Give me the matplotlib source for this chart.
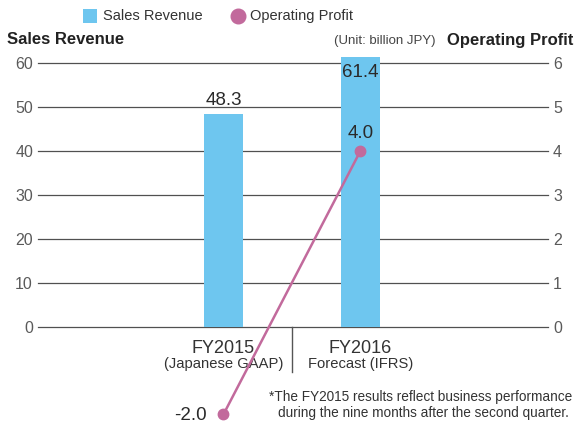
import matplotlib
matplotlib.use("Agg")
import matplotlib.pyplot as plt
from matplotlib.lines import Line2D
from matplotlib.patches import Rectangle

plt.rcParams['font.family'] = ['Liberation Sans', 'DejaVu Sans']

categories = ["FY2015", "FY2016"]
sub_labels = ["(Japanese GAAP)", "Forecast (IFRS)"]
sales = [48.3, 61.4]
profit = [-2.0, 4.0]
left_ticks = [0, 10, 20, 30, 40, 50, 60]
right_ticks = [0, 1, 2, 3, 4, 5, 6]

bar_color = "#6ec6ef"
line_color = "#c26a9c"
grid_color = "#505050"
tick_color = "#5a5a5a"
text_color = "#2a2a2a"

W, H = 574, 423
fig = plt.figure(figsize=(W/100, H/100), dpi=100)
y0, y62 = 326.5, 326.5 - 62*4.392
ax = fig.add_axes([38/W, (H-y0)/H, (548-38)/W, (y0-y62)/H])
ax.set_ylim(0, 62)
ax.set_xlim(-1.354, 2.369)
for s in ax.spines.values():
    s.set_visible(False)
ax.set_yticks(left_ticks)
ax.set_yticklabels([str(t) for t in left_ticks], fontsize=11.5, color=tick_color)
ax.tick_params(axis='y', length=0, pad=3.6)
ax.set_xticks([])
for t in left_ticks:
    ax.axhline(t, color=grid_color, lw=0.9, zorder=1, clip_on=False)

x = list(range(len(categories)))
ax.bar(x, sales, width=0.285, color=bar_color, zorder=2, clip_on=False)

ax2 = ax.twinx()
ax2.set_ylim(0, 6.2)
for s in ax2.spines.values():
    s.set_visible(False)
ax2.set_yticks(right_ticks)
ax2.set_yticklabels([str(t) for t in right_ticks], fontsize=11.5, color=tick_color)
ax2.tick_params(axis='y', length=0, pad=3.6)
ax2.plot(x, profit, color=line_color, lw=1.8, marker='o', ms=7.5, clip_on=False, zorder=5)

# data labels
ax.text(0, 50.4, f"{sales[0]:.1f}", ha='center', va='baseline', fontsize=13.5, color=text_color)
ax.text(1, 56.8, f"{sales[1]:.1f}", ha='center', va='baseline', fontsize=13.5, color=text_color, zorder=6)
ax2.text(1, 4.29, f"{profit[1]:.1f}", ha='center', va='baseline', fontsize=13.5, color=text_color, zorder=6)
ax2.text(-0.125, -2.13, f"{profit[0]:.1f}", ha='right', va='baseline', fontsize=13.5, color=text_color, clip_on=False)

# category labels
for xi, c, sl in zip(x, categories, sub_labels):
    ax.text(xi, -6.03, c, ha='center', va='baseline', fontsize=13, color="#333333")
    ax.text(xi, -9.4, sl, ha='center', va='baseline', fontsize=10.6, color="#333333")
ax.plot([0.5, 0.5], [0, -10.4], color="#555555", lw=1, clip_on=False)

# titles
fig.text(7/W, 1-40/H, "Sales Revenue", ha='left', va='center', fontsize=12, fontweight='bold', color="#222222")
fig.text(573/W, 1-40/H, "Operating Profit", ha='right', va='center', fontsize=12, fontweight='bold', color="#222222")
fig.text(435/W, 1-41/H, "(Unit: billion JPY)", ha='right', va='center', fontsize=9.5, color="#444444")

# footnote
fig.text(572/W, 1-397/H, "*The FY2015 results reflect business performance", ha='right', va='center', fontsize=9.8, color="#333333")
fig.text(569/W, 1-413/H, "during the nine months after the second quarter.", ha='right', va='center', fontsize=9.8, color="#333333")

# legend (manual)
fig.add_artist(Rectangle((83/W, 1-23/H), 14/W, 14/H, transform=fig.transFigure,
                         facecolor=bar_color, edgecolor='none'))
fig.text(103/W, 1-16/H, "Sales Revenue", ha='left', va='center', fontsize=10.5, color="#333333")
fig.add_artist(Line2D([237.5/W], [1-16/H], transform=fig.transFigure, marker='o', ms=10.5,
                      color=line_color, linestyle='none'))
fig.text(250/W, 1-16/H, "Operating Profit", ha='left', va='center', fontsize=10.5, color="#333333")

fig.savefig("out.png", dpi=100)
